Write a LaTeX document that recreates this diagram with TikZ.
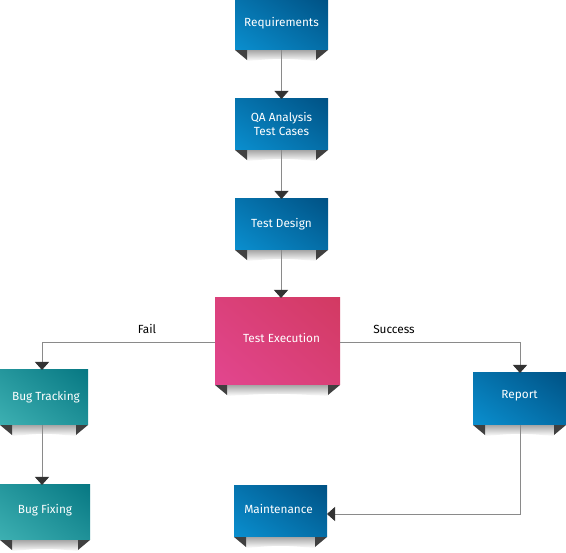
\documentclass[tikz,border=0pt]{standalone}
\usepackage{fontspec}
\setmainfont{Fira Sans}
\usetikzlibrary{arrows.meta,shadings}
\definecolor{blueA}{HTML}{0A8FCF}
\definecolor{blueB}{HTML}{005285}
\definecolor{pinkA}{HTML}{E2468F}
\definecolor{pinkB}{HTML}{D23A62}
\definecolor{tealA}{HTML}{3DB0B2}
\definecolor{tealB}{HTML}{077883}
\definecolor{linegray}{HTML}{8A8A8A}
\definecolor{tipgray}{HTML}{333333}
\tikzset{
  x=1pt, y=-1pt,
  boxtext/.style={text=white, font=\fontsize{11.8}{14}\selectfont, align=center},
  conn/.style={draw=linegray, line width=0.8pt,
    -{Triangle[width=14pt,length=8pt,fill=tipgray,color=tipgray]}},
  lbl/.style={font=\fontsize{11.8}{14}\selectfont, text=black},
}
% box with curled shadow: #1 label shift, #2 name, #3/#4 top-left, #5/#6 bottom-right, #7/#8 colours, #9 text
\newcommand{\flowbox}[9][]{%
  \shade[top color=black!35, bottom color=white]
    (#3+12,#6) -- (#5-12,#6) -- (#5-12,#6+11) .. controls ({(#3+#5)/2},#6+8) .. (#3+12,#6+11) -- cycle;
  \fill[black!75] (#3,#6) -- (#3+12,#6) -- (#3+12,#6+10) -- cycle;
  \fill[black!75] (#5,#6) -- (#5-12,#6) -- (#5-12,#6+10) -- cycle;
  \shade[lower left=#7, upper right=#8, lower right=#8!55!#7, upper left=#7!55!#8]
    (#3,#4) rectangle (#5,#6);
  \node[boxtext,#1] (#2) at ({(#3+#5)/2},{(#4+#6)/2}) {#9};
  \coordinate (#2-n) at ({(#3+#5)/2},#4);
  \coordinate (#2-s) at ({(#3+#5)/2},#6);
}
\begin{document}
\begin{tikzpicture}
\useasboundingbox (0,0) rectangle (566,553);
\fill[white] (0,0) rectangle (566,553);

\flowbox[yshift=2pt]{req}{235}{0}{328}{50}{blueA}{blueB}{Requirements}
\flowbox[yshift=1pt]{qa}{235}{99}{328}{150}{blueA}{blueB}{QA Analysis\\Test Cases}
\flowbox{design}{235}{199}{328}{250}{blueA}{blueB}{Test Design}
\flowbox[shift={(4pt,4pt)}]{exec}{215}{298}{340}{385}{pinkA}{pinkB}{Test Execution}
\flowbox[xshift=2pt]{track}{0}{370}{88}{425}{tealA}{tealB}{Bug Tracking}
\flowbox[yshift=2pt]{fix}{0}{485}{90}{540}{tealA}{tealB}{Bug Fixing}
\flowbox[yshift=3pt]{report}{473}{373}{566}{425}{blueA}{blueB}{Report}
\flowbox[shift={(-2pt,3pt)}]{maint}{234}{486}{327}{537}{blueA}{blueB}{Maintenance}

\coordinate (failc) at (42,342);
\coordinate (succc) at (520,342);
\coordinate (repc) at (520,514);
\coordinate (execin) at (281,298);

\draw[conn] (req-s) -- (qa-n);
\draw[conn] (qa-s) -- (design-n);
\draw[conn] (281,250) -- (execin);
\draw[conn] (215,342) -- (failc) -- (42,370);
\draw[conn] (340,342) -- (succc) -- (520,373);
\draw[conn] (42,425) -- (42,485);
\draw[conn] (520,425) -- (repc) -- (327,514);

\node[lbl] (fail) at (147,329) {Fail};
\node[lbl] (succ) at (394,329) {Success};
\end{tikzpicture}
\end{document}
